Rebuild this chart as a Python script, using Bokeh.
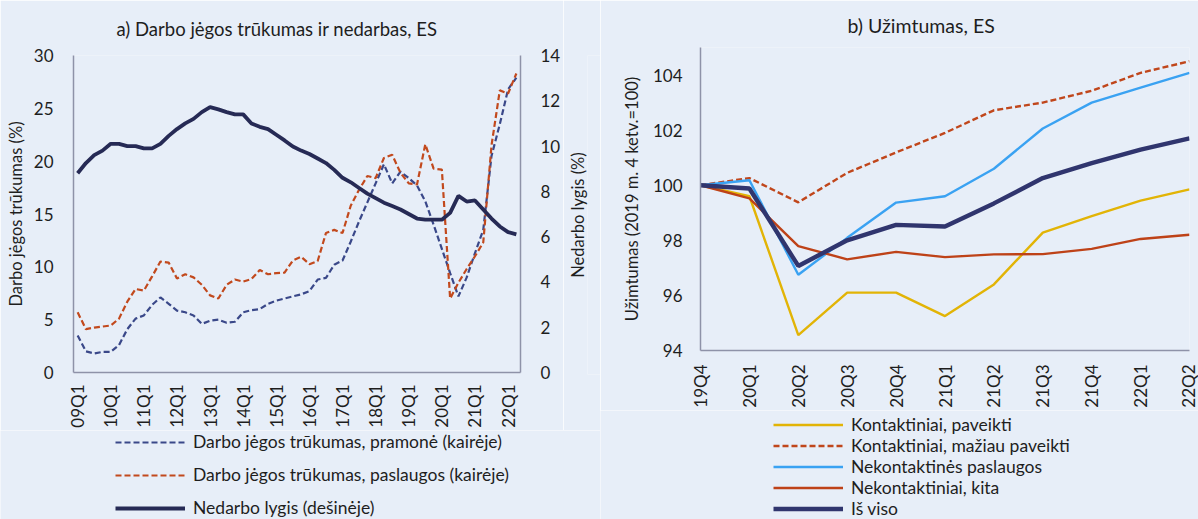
import math
from bokeh.plotting import figure
from bokeh.models import Range1d, LinearAxis, Legend, LegendItem, FixedTicker, Title
from bokeh.layouts import row, column
from bokeh.embed import file_html
from bokeh.resources import INLINE

# ---------------- data: panel a ----------------
quarters_a = [f"{y:02d}Q{q}" for y in range(9, 23) for q in range(1, 5)][:54]

unemployment = [8.8, 9.25, 9.6, 9.8, 10.1, 10.1, 10.0, 10.0, 9.9, 9.9,
                10.1, 10.45, 10.75, 11.0, 11.2, 11.5, 11.72, 11.62, 11.5, 11.4,
                11.4, 11.0, 10.85, 10.75, 10.5, 10.25, 9.98, 9.8, 9.65, 9.45,
                9.25, 8.95, 8.6, 8.4, 8.15, 7.9, 7.7, 7.5, 7.35, 7.2,
                7.0, 6.8, 6.75, 6.75, 6.75, 7.05, 7.8, 7.55, 7.6, 7.2,
                6.8, 6.45, 6.2, 6.1]

shortage_industry = [3.5, 2.0, 1.8, 1.95, 1.95, 2.6, 4.1, 5.1, 5.4, 6.4,
                     7.1, 6.5, 5.86, 5.7, 5.4, 4.6, 4.9, 5.0, 4.7, 4.8,
                     5.7, 5.9, 6.0, 6.5, 6.8, 7.0, 7.2, 7.4, 7.7, 8.8,
                     8.95, 10.2, 10.6, 12.4, 14.3, 16.1, 17.9, 19.7, 17.9, 19.0,
                     18.4, 17.7, 16.2, 14.0, 11.7, 9.4, 7.2, 9.0, 11.3, 13.5,
                     20.5, 23.5, 26.8, 27.9]

shortage_services = [5.7, 4.1, 4.25, 4.35, 4.45, 5.1, 6.7, 7.9, 7.75, 9.1,
                     10.5, 10.4, 8.9, 9.3, 9.0, 8.3, 7.3, 7.0, 8.3, 8.8,
                     8.6, 8.85, 9.7, 9.3, 9.4, 9.45, 10.6, 10.95, 10.25, 10.55,
                     13.2, 13.5, 13.2, 15.8, 17.3, 18.6, 18.4, 20.3, 20.6, 18.9,
                     17.9, 17.8, 21.6, 19.3, 19.2, 7.0, 8.5, 9.8, 11.0, 12.3,
                     21.5, 26.7, 26.4, 28.3]

# ---------------- data: panel b ----------------
quarters_b = ["19Q4", "20Q1", "20Q2", "20Q3", "20Q4", "21Q1", "21Q2",
              "21Q3", "21Q4", "22Q1", "22Q2"]
contact_affected = [100.0, 99.6, 94.56, 96.1, 96.1, 95.25, 96.4, 98.28, 98.88, 99.44, 99.85]
contact_less = [100.0, 100.26, 99.38, 100.45, 101.19, 101.9, 102.72, 103.0, 103.43, 104.08, 104.5]
noncontact_services = [100.0, 100.18, 96.75, 98.09, 99.37, 99.6, 100.6, 102.06, 103.0, 103.54, 104.08]
noncontact_other = [100.0, 99.52, 97.79, 97.31, 97.58, 97.39, 97.49, 97.5, 97.69, 98.05, 98.2]
total = [100.0, 99.88, 97.07, 98.0, 98.56, 98.5, 99.34, 100.26, 100.8, 101.29, 101.7]

BG = "#E7EEF8"
FONT = "Lato"
TXT = "#1E1E1E"
AXC = "#8E92A8"

# styles
S_IND = dict(line_color="#3A4889", line_width=2.2, line_dash="6 3")
S_SRV = dict(line_color="#C2491D", line_width=2.2, line_dash="6 3")
S_UN = dict(line_color="#262A55", line_width=3.8)
S_CA = dict(line_color="#E2B406", line_width=2.4)
S_CL = dict(line_color="#C0461B", line_width=2.4, line_dash="6 3")
S_NS = dict(line_color="#3AA2F2", line_width=2.4)
S_NO = dict(line_color="#BE4218", line_width=2.4)
S_TOT = dict(line_color="#30356E", line_width=4.4)


def style_axis(ax, fs="17px"):
    ax.axis_line_color = AXC
    ax.axis_line_width = 1.5
    ax.major_tick_line_color = None
    ax.minor_tick_line_color = None
    ax.major_label_text_font = FONT
    ax.major_label_text_font_size = fs
    ax.major_label_text_color = TXT
    ax.axis_label_text_font = FONT
    ax.axis_label_text_font_size = "16.5px"
    ax.axis_label_text_font_style = "normal"
    ax.axis_label_text_color = TXT


def style_title(p, text, offset, standoff, fs):
    p.title.text = text
    p.title.align = "left"
    p.title.offset = offset
    p.title.standoff = standoff
    p.title.text_font = FONT
    p.title.text_font_size = fs
    p.title.text_font_style = "normal"
    p.title.text_color = TXT


def no_frame_align(p):
    try:
        p.frame_align = False
    except Exception:
        pass


def blank_fig(width, height, **borders):
    f = figure(width=width, height=height, x_range=Range1d(0, 1), y_range=Range1d(0, 1),
               x_axis_type=None, y_axis_type=None, output_backend="svg", toolbar_location=None,
               background_fill_color=BG, border_fill_color=BG, outline_line_color=None,
               **borders)
    no_frame_align(f)
    f.xgrid.visible = False
    f.ygrid.visible = False
    return f


def legend_fig(width, height, entries, loc, fs, item_h, spacing):
    f = blank_fig(width, height, min_border=0)
    items = []
    nan = float("nan")
    for label, style in entries:
        r = f.line([nan, nan], [nan, nan], **style)
        items.append(LegendItem(label=label, renderers=[r]))
    leg = Legend(items=items, location=loc, orientation="vertical")
    leg.background_fill_alpha = 0
    leg.border_line_color = None
    leg.label_text_font = FONT
    leg.label_text_font_size = fs
    leg.label_text_color = TXT
    leg.padding = 0
    leg.margin = 0
    leg.glyph_width = 70
    leg.label_standoff = 8
    leg.glyph_height = item_h
    leg.label_height = item_h
    leg.spacing = spacing
    f.add_layout(leg)
    return f


# ---------------- panel a ----------------
xa = list(range(len(quarters_a)))
p1 = figure(width=563, height=430, x_range=Range1d(-0.5, 53.5), y_range=Range1d(0, 30),
            output_backend="svg", toolbar_location=None,
            min_border_left=73, min_border_right=42, min_border_top=55, min_border_bottom=56,
            background_fill_color=BG, border_fill_color=BG, outline_line_color=None)
no_frame_align(p1)
style_title(p1, "a) Darbo jėgos trūkumas ir nedarbas, ES", 43, 31, "18.5px")
p1.xgrid.visible = False
p1.ygrid.visible = False

p1.xaxis.ticker = FixedTicker(ticks=xa[::4])
p1.xaxis.major_label_overrides = {i: quarters_a[i] for i in xa[::4]}
p1.xaxis.major_label_orientation = math.pi / 2
p1.xaxis.major_label_standoff = 6
p1.yaxis.ticker = FixedTicker(ticks=[0, 5, 10, 15, 20, 25, 30])
p1.yaxis.axis_label = "Darbo jėgos trūkumas (%)"
p1.yaxis.major_label_standoff = 14
p1.yaxis.axis_label_standoff = 5
style_axis(p1.xaxis[0])
style_axis(p1.yaxis[0])

p1.extra_y_ranges = {"u": Range1d(0, 14)}
ax_r = LinearAxis(y_range_name="u",
                  ticker=FixedTicker(ticks=[0, 2, 4, 6, 8, 10, 12, 14]))
ax_r.major_label_standoff = 14
style_axis(ax_r)
p1.add_layout(ax_r, "right")

p1.line(xa, shortage_industry, **S_IND)
p1.line(xa, shortage_services, **S_SRV)
p1.line(xa, unemployment, y_range_name="u", **S_UN)

# right-axis title (reads bottom to top, centred on the frame)
rlab = blank_fig(37, 430, min_border_left=24, min_border_right=0,
                 min_border_top=55, min_border_bottom=56)
rlab.add_layout(Title(text="Nedarbo lygis (%)", align="center", text_font=FONT,
                      text_font_size="16.5px", text_font_style="normal",
                      text_color=TXT, standoff=0), "left")

lf1 = legend_fig(600, 89, [
    ("Darbo jėgos trūkumas, pramonė (kairėje)", S_IND),
    ("Darbo jėgos trūkumas, paslaugos (kairėje)", S_SRV),
    ("Nedarbo lygis (dešinėje)", S_UN),
], (115, 1), "17.5px", 20, 12)

# ---------------- panel b ----------------
xb = list(range(len(quarters_b)))
p2 = figure(width=598, height=410, x_range=Range1d(0, 10), y_range=Range1d(94, 105),
            output_backend="svg", toolbar_location=None,
            min_border_left=100, min_border_right=9, min_border_top=47, min_border_bottom=56,
            background_fill_color=BG, border_fill_color=BG, outline_line_color=None)
no_frame_align(p2)
style_title(p2, "b) Užimtumas, ES", 147, 22, "19.5px")
p2.xgrid.visible = False
p2.ygrid.visible = False
p2.xaxis.ticker = FixedTicker(ticks=xb)
p2.xaxis.major_label_overrides = {i: quarters_b[i] for i in xb}
p2.xaxis.major_label_orientation = math.pi / 2
p2.xaxis.major_label_standoff = 8
p2.yaxis.ticker = FixedTicker(ticks=[94, 96, 98, 100, 102, 104])
p2.yaxis.axis_label = "Užimtumas (2019 m. 4 ketv.=100)"
p2.yaxis.major_label_standoff = 12
p2.yaxis.axis_label_standoff = 8
style_axis(p2.xaxis[0])
style_axis(p2.yaxis[0])

p2.line(xb, contact_affected, **S_CA)
p2.line(xb, contact_less, **S_CL)
p2.line(xb, noncontact_services, **S_NS)
p2.line(xb, noncontact_other, **S_NO)
p2.line(xb, total, **S_TOT)

lf2 = legend_fig(598, 109, [
    ("Kontaktiniai, paveikti", S_CA),
    ("Kontaktiniai, mažiau paveikti", S_CL),
    ("Nekontaktinės paslaugos", S_NS),
    ("Nekontaktiniai, kita", S_NO),
    ("Iš viso", S_TOT),
], (173, 0), "17.5px", 21, 0)

left = column(row(p1, rlab, spacing=0), lf1, spacing=0)
right = column(p2, lf2, spacing=0)
lay = row(left, right, spacing=0)
with open("out.html", "w") as f:
    f.write(file_html(lay, INLINE))
